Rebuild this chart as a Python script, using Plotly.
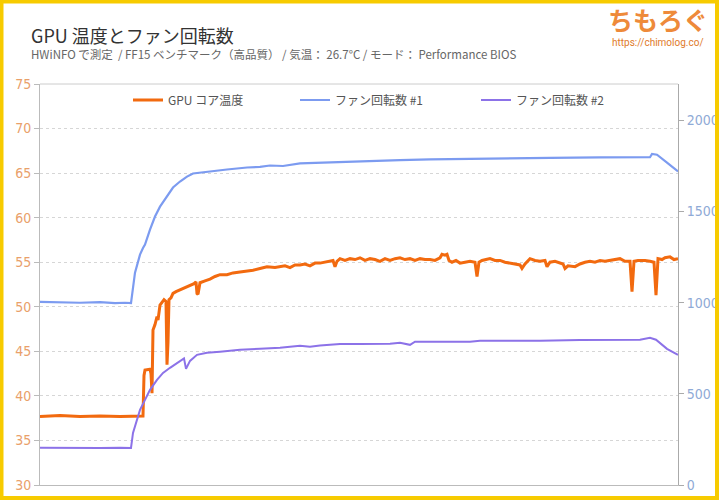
import plotly.graph_objects as go

# ---- data (time index) ----
temp_t = [0, 20, 40, 60, 80, 103, 104, 105, 110, 111, 112, 113, 115, 117, 118, 120, 122, 124, 126, 127, 128, 129, 131, 133, 136, 140, 145, 150, 154, 156, 157, 158, 159, 160, 165, 170, 175, 180, 187, 193, 200, 207, 213, 220, 227, 235, 240, 245, 250, 255, 260, 265, 270, 275, 280, 285, 290, 293, 295, 297, 300, 305, 310, 315, 320, 325, 330, 335, 340, 345, 350, 355, 360, 365, 370, 375, 380, 385, 390, 395, 400, 402, 405, 407, 409, 412, 416, 420, 425, 430, 435, 437, 439, 442, 446, 450, 455, 460, 465, 470, 475, 480, 482, 485, 490, 495, 500, 505, 507, 510, 515, 520, 523, 525, 528, 535, 540, 545, 550, 555, 560, 565, 570, 575, 580, 585, 590, 592, 594, 598, 605, 610, 614, 616, 618, 622, 625, 630, 634, 638]
temp_v = [37.7, 37.8, 37.7, 37.75, 37.7, 37.75, 42.3, 42.9, 43.0, 42.5, 40.3, 47.4, 48.0, 48.9, 48.5, 50.2, 50.5, 50.8, 50.6, 43.5, 46.0, 50.8, 51.0, 51.5, 51.7, 51.9, 52.1, 52.4, 52.6, 52.8, 51.5, 51.4, 52.4, 52.7, 52.9, 53.1, 53.4, 53.6, 53.6, 53.8, 53.9, 54.0, 54.1, 54.3, 54.5, 54.4, 54.5, 54.6, 54.4, 54.7, 54.7, 54.8, 54.6, 54.9, 54.9, 55.0, 55.1, 55.2, 54.5, 55.1, 55.4, 55.2, 55.4, 55.3, 55.5, 55.2, 55.4, 55.3, 55.1, 55.4, 55.2, 55.4, 55.5, 55.3, 55.4, 55.2, 55.4, 55.3, 55.3, 55.2, 55.5, 55.9, 55.8, 55.9, 55.2, 55.0, 55.2, 54.9, 55.0, 55.1, 55.0, 53.4, 55.0, 55.2, 55.3, 55.4, 55.2, 55.2, 55.0, 54.9, 54.8, 54.7, 54.3, 54.8, 55.4, 55.2, 55.1, 55.2, 54.5, 55.0, 55.1, 54.9, 54.8, 54.3, 54.6, 54.5, 54.8, 55.0, 55.1, 55.0, 55.2, 55.1, 55.2, 55.3, 55.4, 55.1, 55.1, 51.7, 55.1, 55.2, 55.2, 55.1, 55.0, 51.3, 55.4, 55.3, 55.5, 55.6, 55.3, 55.4]

fan1_t = [0, 20, 40, 60, 75, 85, 91, 95, 100, 103, 105, 110, 115, 120, 127, 133, 140, 147, 153, 160, 173, 187, 207, 220, 230, 243, 260, 293, 330, 360, 390, 427, 470, 510, 560, 600, 610, 612, 617, 627, 638]
fan1_v = [1005, 1003, 1000, 1003, 998, 1000, 998, 1165, 1264, 1300, 1319, 1401, 1473, 1527, 1582, 1632, 1665, 1692, 1709, 1714, 1725, 1731, 1742, 1745, 1753, 1750, 1764, 1771, 1776, 1782, 1786, 1790, 1791, 1795, 1797, 1797, 1798, 1816, 1812, 1769, 1720]

fan2_t = [0, 20, 40, 60, 80, 91, 93, 97, 100, 105, 110, 117, 123, 130, 137, 143, 144, 146, 148, 150, 157, 167, 180, 200, 220, 240, 260, 270, 280, 300, 320, 350, 360, 370, 375, 390, 430, 440, 460, 500, 540, 560, 600, 610, 616, 627, 638]
fan2_v = [205, 203, 205, 203, 205, 203, 286, 357, 412, 467, 522, 577, 615, 643, 670, 692, 695, 637, 660, 681, 714, 725, 731, 742, 748, 753, 764, 758, 765, 773, 773, 775, 780, 769, 786, 785, 786, 791, 790, 791, 795, 797, 797, 808, 797, 747, 714]

names = ["GPU コア温度", "ファン回転数 #1", "ファン回転数 #2"]
left_ticks = [30, 35, 40, 45, 50, 55, 60, 65, 70, 75]
right_ticks = [0, 500, 1000, 1500, 2000]

W, H = 719, 501
L, R, T, B = 40, 678, 84, 485


def xp(px):
    return (px - L) / (R - L)


def yp(py):
    return (B - py) / (B - T)


C_TEMP = "#F26A0F"
C_F1 = "#7C9BF0"
C_F2 = "#8C72E8"
CJK = "'Noto Sans CJK JP', sans-serif"
NARROW = "'DejaVu Sans Condensed', Roboto, sans-serif"

fig = go.Figure()
fig.add_trace(go.Scatter(x=temp_t, y=temp_v, mode="lines", name=names[0],
                         line=dict(color=C_TEMP, width=3), legend="legend"))
fig.add_trace(go.Scatter(x=fan1_t, y=fan1_v, mode="lines", name=names[1], yaxis="y2",
                         line=dict(color=C_F1, width=2.2), legend="legend2"))
fig.add_trace(go.Scatter(x=fan2_t, y=fan2_v, mode="lines", name=names[2], yaxis="y2",
                         line=dict(color=C_F2, width=2), legend="legend3"))

leg_common = dict(orientation="h", xanchor="left", yanchor="middle",
                  bgcolor="rgba(0,0,0,0)", font=dict(family=CJK, size=12, color="#555"))

fig.update_layout(
    width=W, height=H,
    margin=dict(l=L, r=W - R, t=T, b=H - B, autoexpand=False),
    paper_bgcolor="white", plot_bgcolor="white",
    showlegend=True,
    legend=dict(x=xp(128), y=yp(100), **leg_common),
    legend2=dict(x=xp(295), y=yp(100), **leg_common),
    legend3=dict(x=xp(476), y=yp(100), **leg_common),
    xaxis=dict(range=[0, 638], showticklabels=False, showgrid=False, zeroline=False,
               showline=True, linecolor="#bbbbbb", linewidth=1, mirror=False, ticks="",
               automargin=False),
    yaxis=dict(range=[30, 75], tickvals=left_ticks, showgrid=True, gridcolor="#d6d6d6",
               griddash="dot", gridwidth=1, zeroline=False, showline=True,
               linecolor="#bbbbbb", ticks="outside", ticklen=5, tickcolor="#bbbbbb",
               automargin=False,
               tickfont=dict(family=NARROW, size=14, color="#E9A06A")),
    yaxis2=dict(range=[0, 2200], tickvals=right_ticks, overlaying="y", side="right",
                showgrid=False, zeroline=False, showline=True, linecolor="#aaaaaa",
                ticks="outside", ticklen=5, tickcolor="#aaaaaa", automargin=False,
                tickfont=dict(family=NARROW, size=14, color="#8FAAD6")),
    shapes=[
        dict(type="line", xref="paper", yref="paper", x0=0, x1=1, y0=1, y1=1,
             line=dict(color="#cccccc", width=1)),
        dict(type="rect", xref="paper", yref="paper",
             x0=xp(1.5), x1=xp(717), y0=yp(1.5), y1=yp(498),
             line=dict(color="#F7CB00", width=4), fillcolor="rgba(0,0,0,0)", layer="above"),
    ],
    annotations=[
        dict(text="GPU 温度とファン回転数", xref="paper", yref="paper", x=xp(29), y=yp(35),
             xanchor="left", yanchor="middle", showarrow=False,
             font=dict(family=CJK, size=18, color="#333")),
        dict(text="HWiNFO で測定  / FF15 ベンチマーク（高品質） / 気温： 26.7°C / モード： Performance BIOS",
             xref="paper", yref="paper", x=xp(29), y=yp(54), xanchor="left", yanchor="middle",
             showarrow=False, font=dict(family=CJK, size=11.5, color="#666")),
        dict(text="<b>ちもろぐ</b>", xref="paper", yref="paper", x=xp(658), y=yp(19),
             xanchor="center", yanchor="middle", showarrow=False,
             font=dict(family=CJK, size=25, color="#EE8A3A")),
        dict(text="https://chimolog.co/", xref="paper", yref="paper", x=xp(658), y=yp(42),
             xanchor="center", yanchor="middle", showarrow=False,
             font=dict(family="Roboto, sans-serif", size=10, color="#E07A2A")),
    ],
)

fig.write_html("out.html", config={"displayModeBar": False},
               post_script="document.body.style.margin='0';document.body.style.overflow='hidden';")
